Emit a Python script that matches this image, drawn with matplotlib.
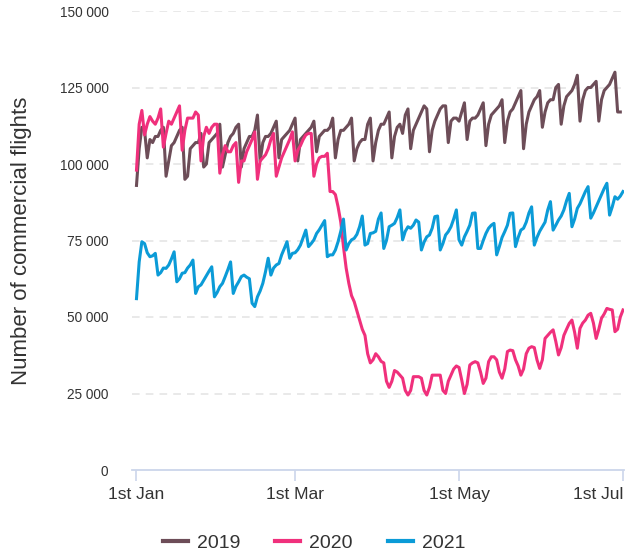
import numpy as np
import matplotlib
matplotlib.use("Agg")
import matplotlib.pyplot as plt
from matplotlib.lines import Line2D

# daily commercial flights, thousands, starting 1st Jan of each year
flights_2019 = [
    93, 105, 112, 111, 102, 108, 107, 109, 109, 111, 112, 96, 101, 106, 107, 109,
    111, 112, 95, 96, 105, 106, 107, 107, 110, 99, 100, 107, 108, 109, 110, 113,
    99, 103, 107, 109, 110, 112, 113, 99, 105, 107, 109, 109, 111, 116, 101, 107,
    109, 109, 110, 112, 114, 102, 108, 109, 110, 111, 113, 115, 101, 108, 109, 110,
    111, 112, 114, 104, 109, 110, 111, 111, 112, 115, 102, 108, 111, 111, 112, 113,
    115, 101, 105, 107, 108, 108, 113, 115, 101, 107, 111, 113, 113, 115, 117, 102,
    109, 112, 113, 110, 116, 118, 105, 111, 113, 115, 117, 119, 118, 104, 111, 114,
    116, 118, 119, 119, 107, 114, 115, 115, 114, 117, 120, 108, 114, 115, 115, 116,
    118, 120, 106, 113, 116, 117, 118, 119, 121, 107, 114, 117, 118, 120, 122, 124,
    105, 113, 117, 119, 121, 122, 124, 112, 117, 120, 121, 121, 125, 126, 113, 119,
    122, 123, 124, 126, 129, 114, 121, 124, 125, 125, 126, 127, 114, 121, 124, 125,
    126, 128, 130, 117, 117,
]
flights_2020 = [
    98, 113, 117.5, 109.5, 113, 115.5, 114, 113, 115, 118, 105.5, 110, 114, 113, 115, 117,
    119, 104.5, 111, 115, 115, 115, 117, 116, 101, 109, 112, 110, 112, 113, 113, 97,
    103, 106, 104, 104, 106, 107, 94, 101, 101, 104, 106, 108, 110.5, 95, 101, 102,
    103, 105, 108, 110, 96, 99, 102, 104, 106, 108, 110.5, 101, 104.5, 106, 108, 109.5,
    110, 110, 96, 100, 102, 102.5, 102.5, 103.5, 91, 91, 90, 86, 81, 73, 66, 61,
    57, 55, 52, 49, 46, 44, 38, 35, 36, 38, 37, 35.5, 35, 29, 27, 29,
    32.5, 32, 31, 30, 26, 24.5, 26, 30.5, 30.5, 30.5, 30, 26, 24.5, 27, 31, 31,
    31, 31, 26, 25, 29, 31, 33, 34, 33.5, 29.4, 25, 28, 34.3, 35, 35.4, 35,
    32, 28.3, 30, 35.4, 37, 37, 36, 32, 30, 33, 38.7, 39.2, 39, 36, 34, 31,
    33, 38, 39.8, 40.3, 40, 36, 33.2, 36, 43, 44, 45, 45.8, 42, 37.6, 40, 44,
    46, 47.9, 49, 45, 39.8, 46.3, 48, 49, 50.6, 51.2, 48, 43, 46, 49.6, 51, 52.8,
    52.5, 52.3, 45.2, 46, 50, 52.3,
]
flights_2021 = [
    56, 68, 74.6, 74, 71, 69.7, 70, 70.8, 63.7, 64.5, 66, 65.9, 67, 69, 71.3, 61.5,
    62.5, 64.3, 64.5, 66, 67, 68.6, 57.7, 59.9, 60.5, 62, 63.5, 65, 66.4, 56.6, 58, 59.9,
    61, 63.2, 65.5, 68, 57.7, 60, 61.5, 63.2, 63.7, 63, 62.5, 54.5, 53.4, 56.6, 58.5, 61,
    64.8, 69.2, 63.7, 66, 67, 67.5, 70.3, 72.4, 74.6, 69.2, 70.8, 71, 72, 73.5, 76, 78.4,
    73, 74, 75.2, 77.3, 78.5, 80, 81.5, 69.7, 70.3, 70.3, 71.9, 74.6, 78, 82, 71.9, 74,
    75.2, 75.7, 77, 79.5, 83, 73.5, 74, 77.3, 77.5, 78, 82, 84, 72.4, 75, 79.5, 80,
    80.6, 82.5, 85, 75.2, 78, 79.5, 79, 80, 81.7, 81, 71.9, 74.5, 76.2, 76.8, 79, 82.8,
    83, 71.9, 74, 76.8, 77.9, 79.5, 82, 85, 75.2, 73.5, 76.2, 78, 80, 83.9, 84, 72.4,
    72.4, 75, 77.3, 79, 80, 80.6, 70.3, 73, 76, 77.9, 80, 83.9, 84, 73, 76, 78.4,
    79, 81, 84, 86, 73.5, 76, 78, 79.5, 81, 85, 87.7, 78.4, 80, 81.7, 83, 85,
    88, 90.4, 79.5, 82, 85.5, 87, 89, 91, 92.6, 82.3, 84, 86, 88, 90, 92, 93.7,
    83.3, 86, 89.3, 88.5, 89.5, 91,
]
years = ["2019", "2020", "2021"]
colors = ["#6d4d58", "#f0307c", "#0b9bd7"]
tick_days = [0, 59, 120, 181]
tick_labels = ["1st Jan", "1st Mar", "1st May", "1st Jul"]
y_ticks = [0, 25000, 50000, 75000, 100000, 125000, 150000]

plt.rcParams["font.family"] = ["Liberation Sans", "DejaVu Sans"]
text_color = "#333333"

fig = plt.figure(figsize=(6.38, 5.6), dpi=100)
ax = fig.add_axes([132 / 638, 1 - 470 / 560, 492 / 638, 459 / 560])

for series, color in zip([flights_2019, flights_2020, flights_2021], colors):
    vals = np.array(series) * 1000
    ax.plot(np.arange(len(vals)), vals, color=color, lw=2.2, solid_joinstyle="round")

ax.set_xlim(-1.67, 181.37)
ax.set_ylim(0, 150000)

# dashed grid
for y in y_ticks[1:]:
    ax.axhline(y, color="#e3e3e3", lw=1.1, ls=(0, (5, 4)), zorder=0)

for s in ["top", "right", "left"]:
    ax.spines[s].set_visible(False)
ax.spines["bottom"].set_color("#ccd6eb")
ax.spines["bottom"].set_linewidth(1.3)

ax.set_xticks(tick_days)
ax.set_xticklabels(tick_labels, fontsize=12.5, color=text_color)
ax.get_xticklabels()[-1].set_ha("right")
ax.tick_params(axis="x", length=8, width=1.2, color="#ccd6eb", pad=4)

ax.set_yticks(y_ticks)
ax.set_yticklabels([f"{v:,}".replace(",", " ") for v in y_ticks], fontsize=9.8,
                   color=text_color)
ax.tick_params(axis="y", length=0, pad=17)

ax.set_ylabel("Number of commercial flights", fontsize=16, color=text_color)
ax.yaxis.set_label_coords(-0.203, 0.5)

handles = [Line2D([], [], color=c, lw=3) for c in colors]
fig.legend(handles, years, loc="center", bbox_to_anchor=(314 / 638, 1 - 543 / 560),
           ncol=3, frameon=False, fontsize=14, handlelength=1.3, handletextpad=0.45,
           columnspacing=1.8, labelcolor=text_color)

fig.savefig("out.png", dpi=100)
